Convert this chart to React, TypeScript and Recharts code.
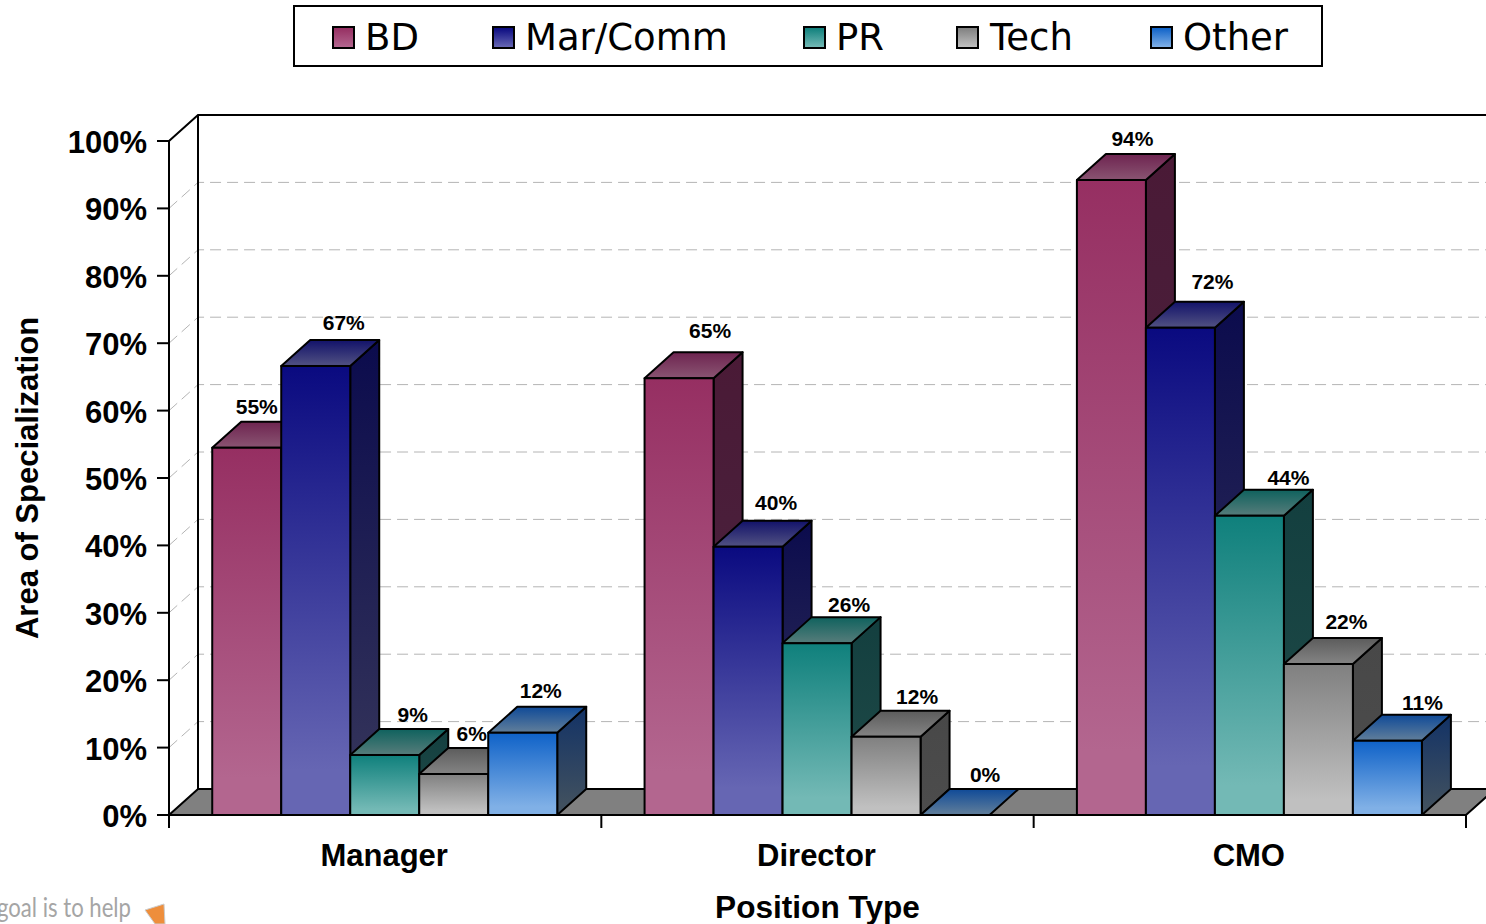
import React from "react";
import {
  BarChart,
  Bar,
  XAxis,
  YAxis,
  CartesianGrid,
  LabelList,
  ReferenceArea,
} from "recharts";

const categories = ["Manager", "Director", "CMO"];
const seriesNames = ["BD", "Mar/Comm", "PR", "Tech", "Other"];
const bdValues = [54.5, 64.8, 94.2];
const marCommValues = [66.6, 39.8, 72.3];
const prValues = [8.9, 25.5, 44.4];
const techValues = [6.1, 11.6, 22.4];
const otherValues = [12.2, 0, 11];
const yTicks = [0, 10, 20, 30, 40, 50, 60, 70, 80, 90, 100];

const data = categories.map((name, i) => ({
  name,
  BD: bdValues[i],
  "Mar/Comm": marCommValues[i],
  PR: prValues[i],
  Tech: techValues[i],
  Other: otherValues[i],
}));

// 3D look of the old Excel chart
const DEPTH_X = 29;
const DEPTH_Y = 26;
const ARIAL = "'Liberation Sans', Arial, sans-serif";

// front top/bottom, top face back/front, side face top/bottom
const palette: Record<string, string[]> = {
  BD: ["#962f62", "#b3668f", "#6e2450", "#87506f", "#4a1a36", "#4a2440"],
  "Mar/Comm": ["#0a0a80", "#6666b3", "#12126a", "#4c4c80", "#0b0b4d", "#33335a"],
  PR: ["#0f807c", "#73b9b5", "#0f625e", "#507a78", "#133f3f", "#1f4a48"],
  Tech: ["#808080", "#c0c0c0", "#5c5c5c", "#808080", "#484848", "#4c4c4c"],
  Other: ["#0f62c8", "#80b0e6", "#0f4a98", "#5a7a9a", "#123266", "#40505f"],
};

// hand placed data labels in the original, offsets from the default spot
const labelDx: Record<string, number[]> = {
  BD: [10, 31, 21],
  "Mar/Comm": [28, 28, 32],
  PR: [28, 32, 39],
  Tech: [18, 31, 28],
  Other: [18, 30, 35],
};
const labelDy: Record<string, number[]> = {
  BD: [15, 22, 16],
  "Mar/Comm": [18, 18, 20],
  PR: [15, 13, 12],
  Tech: [14, 14, 17],
  Other: [16, 15, 12],
};

const gradId = (name: string, part: string) =>
  `${part}-${name.replace("/", "")}`;

const Gradient = ({ id, from, to }: { id: string; from: string; to: string }) => (
  <linearGradient id={id} x1="0" y1="0" x2="0" y2="1">
    <stop offset="0%" stopColor={from} />
    <stop offset="90%" stopColor={to} />
  </linearGradient>
);

const makeBarShape = (name: string) => (props: any) => {
  const { x, y, width, height } = props;
  const top = `M${x},${y} L${x + DEPTH_X},${y - DEPTH_Y} L${x + width + DEPTH_X},${y - DEPTH_Y} L${x + width},${y} Z`;
  const side = `M${x + width},${y} L${x + width + DEPTH_X},${y - DEPTH_Y} L${x + width + DEPTH_X},${y + height - DEPTH_Y} L${x + width},${y + height} Z`;
  return (
    <g stroke="#000" strokeWidth={2} strokeLinejoin="round">
      {height > 0 && (
        <path d={side} fill={`url(#${gradId(name, "side")})`} />
      )}
      <path d={top} fill={`url(#${gradId(name, "top")})`} />
      {height > 0 && (
        <rect
          x={x}
          y={y}
          width={width}
          height={height}
          fill={`url(#${gradId(name, "front")})`}
        />
      )}
    </g>
  );
};

const makeLabel = (name: string) => (props: any) => {
  const { x, y, width, value, index } = props;
  return (
    <text
      x={x + width / 2 + labelDx[name][index]}
      y={y - DEPTH_Y - labelDy[name][index]}
      dy="0.36em"
      textAnchor="middle"
      fontFamily={ARIAL}
      fontWeight="bold"
      fontSize={21}
      fill="#000"
    >
      {Math.round(value)}%
    </text>
  );
};

// back wall and floor, sits behind the bars
const Room = (props: any) => {
  const { x, y, width, height } = props;
  const bottom = y + height;
  const floor = `M${x},${bottom} L${x + DEPTH_X},${bottom - DEPTH_Y} L${x + width + DEPTH_X},${bottom - DEPTH_Y} L${x + width},${bottom} Z`;
  const wall = `M${x},${y} L${x + DEPTH_X},${y - DEPTH_Y} L${x + width + DEPTH_X},${y - DEPTH_Y} M${x + DEPTH_X},${y - DEPTH_Y} L${x + DEPTH_X},${bottom - DEPTH_Y}`;
  return (
    <g stroke="#000" strokeWidth={2}>
      <path d={floor} fill="#808080" />
      <path d={wall} fill="none" />
    </g>
  );
};

const GridLine = (props: any) => {
  const { x1, x2, y1, y, height } = props;
  if (y1 <= y + 1 || y1 >= y + height - 1) return <g key={props.key} />;
  return (
    <path
      key={props.key}
      d={`M${x1},${y1} L${x1 + DEPTH_X},${y1 - DEPTH_Y} L${x2 + DEPTH_X},${y1 - DEPTH_Y}`}
      fill="none"
      stroke="#b4b4b4"
      strokeWidth={1}
      strokeDasharray="11 6"
    />
  );
};

const CategoryTick = (props: any) => {
  const { x, y, payload, index } = props;
  const band = 1297 / categories.length;
  return (
    <g>
      <line x1={x - band / 2} x2={x - band / 2} y1={y} y2={y + 13} stroke="#000" strokeWidth={2} />
      {index === categories.length - 1 && (
        <line x1={x + band / 2} x2={x + band / 2} y1={y} y2={y + 13} stroke="#000" strokeWidth={2} />
      )}
      <text
        x={x - 1}
        y={y + 51}
        textAnchor="middle"
        fontFamily={ARIAL}
        fontWeight="bold"
        fontSize={31}
        fill="#000"
      >
        {payload.value}
      </text>
    </g>
  );
};

const LegendBox = () => (
  <div
    style={{
      position: "absolute",
      left: 293,
      top: 5,
      width: 1026,
      height: 58,
      border: "2px solid #000",
      background: "#fff",
    }}
  >
    {seriesNames.map((name, i) => (
      <React.Fragment key={name}>
        <div
          style={{
            position: "absolute",
            left: [37, 197, 508, 661, 855][i],
            top: 19,
            width: 19,
            height: 19,
            border: "2px solid #000",
            background: `linear-gradient(${palette[name][0]}, ${palette[name][1]})`,
          }}
        />
        <div
          style={{
            position: "absolute",
            left: [70, 230, 541, 695, 888][i],
            top: 10,
            fontFamily: "'DejaVu Sans', sans-serif",
            fontSize: 37,
            lineHeight: "42px",
            color: "#000",
            whiteSpace: "nowrap",
          }}
        >
          {name}
        </div>
      </React.Fragment>
    ))}
  </div>
);

const App = () => {
  return (
    <div style={{ position: "absolute", left: 0, top: 0, width: 1486, height: 924, overflow: "hidden", background: "#fff" }}>
      <BarChart
        width={1486}
        height={924}
        data={data}
        margin={{ top: 141, right: 20, left: 0, bottom: 0 }}
        barCategoryGap="10%"
        barGap={0}
      >
        <defs>
          {seriesNames.map((name) => (
            <React.Fragment key={name}>
              <Gradient id={gradId(name, "front")} from={palette[name][0]} to={palette[name][1]} />
              <Gradient id={gradId(name, "top")} from={palette[name][2]} to={palette[name][3]} />
              <Gradient id={gradId(name, "side")} from={palette[name][4]} to={palette[name][5]} />
            </React.Fragment>
          ))}
        </defs>
        <ReferenceArea y1={0} y2={100} shape={Room} ifOverflow="visible" />
        <CartesianGrid vertical={false} horizontal={GridLine} />
        <XAxis
          dataKey="name"
          height={109}
          tickLine={false}
          tickSize={0}
          tickMargin={0}
          tick={CategoryTick}
          axisLine={{ stroke: "#000", strokeWidth: 2 }}
          interval={0}
          label={{
            value: "Position Type",
            position: "insideBottom",
            offset: 6,
            style: { fontFamily: ARIAL, fontWeight: "bold", fontSize: 31.6, fill: "#000" },
          }}
        />
        <YAxis
          width={169}
          domain={[0, 100]}
          ticks={yTicks}
          interval={0}
          tickFormatter={(v) => `${v}%`}
          tickSize={12}
          tickMargin={10}
          tickLine={{ stroke: "#000", strokeWidth: 2 }}
          axisLine={{ stroke: "#000", strokeWidth: 2 }}
          tick={{ fontFamily: ARIAL, fontWeight: "bold", fontSize: 31, fill: "#000", dy: 1 }}
          label={{
            value: "Area of Specialization",
            angle: -90,
            position: "insideLeft",
            offset: 27,
            style: { textAnchor: "middle", fontFamily: ARIAL, fontWeight: "bold", fontSize: 31, fill: "#000" },
          }}
        />
        {seriesNames.map((name) => (
          <Bar
            key={name}
            dataKey={name}
            isAnimationActive={false}
            shape={makeBarShape(name)}
          >
            <LabelList dataKey={name} content={makeLabel(name)} />
          </Bar>
        ))}
      </BarChart>
      <LegendBox />
      {/* clipped leftover of the slide this chart was cut from */}
      <svg width={170} height={40} style={{ position: "absolute", left: 0, top: 884 }}>
        <text x={-3} y={33} textLength={134} lengthAdjust="spacingAndGlyphs" fontFamily="Lato, sans-serif" fontSize={27} fill="#a5a5a5">
          goal is to help
        </text>
        <path d="M145,26 L164,20 L165,40 L155,40 Z" fill="#ee8e3c" stroke="#ccc" strokeWidth={1} />
      </svg>
    </div>
  );
};

export default App;
